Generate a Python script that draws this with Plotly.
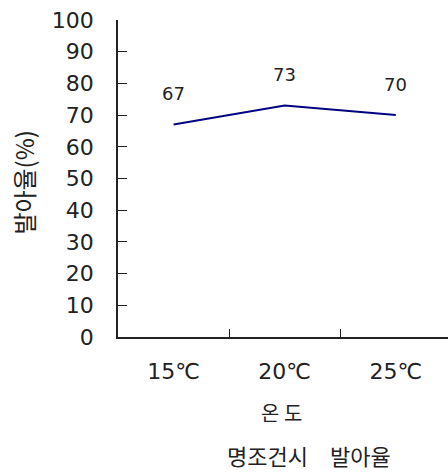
import plotly.graph_objects as go

# Germination rate under light conditions by temperature
temps = ["15℃", "20℃", "25℃"]
rates = [67, 73, 70]
y_ticks = [0, 10, 20, 30, 40, 50, 60, 70, 80, 90, 100]

FONT = "DejaVu Sans, Noto Sans CJK KR, sans-serif"
KFONT = "Noto Sans CJK KR, sans-serif"

fig = go.Figure()
fig.add_trace(go.Scatter(
    x=temps, y=rates, mode="lines",
    line=dict(color="#000080", width=2),
    hoverinfo="skip", showlegend=False,
))

for t, r in zip(temps, rates):
    fig.add_annotation(
        x=t, y=r, text=str(r), showarrow=False,
        yshift=31, font=dict(family=FONT, size=18, color="#222"),
    )

fig.add_annotation(xref="paper", yref="paper", x=0.494, y=-0.237,
                   xanchor="center", yanchor="middle",
                   text="온 도", showarrow=False,
                   font=dict(family=KFONT, size=20, color="#222"))
fig.add_annotation(xref="paper", yref="paper", x=0.579, y=-0.372,
                   xanchor="center", yanchor="middle",
                   text="명조건시\u3000발아율", showarrow=False,
                   font=dict(family=KFONT, size=22, color="#222"))
fig.add_annotation(xref="paper", yref="paper", x=-0.285, y=0.49,
                   xanchor="center", yanchor="middle",
                   text="발아율(%)", showarrow=False, textangle=-90,
                   font=dict(family=KFONT, size=24, color="#222"))

fig.update_layout(
    width=448, height=472,
    margin=dict(l=118, r=0, t=20, b=135),
    paper_bgcolor="white", plot_bgcolor="white",
    font=dict(family=FONT, color="#222"),
    xaxis=dict(
        type="category", categoryorder="array", categoryarray=temps,
        range=[-0.5, 2.47], tickson="boundaries", ticks="inside",
        ticklen=8, tickcolor="#222", showline=True, linecolor="#222",
        linewidth=1.5, showgrid=False, zeroline=False,
        tickfont=dict(size=22), ticklabelstandoff=14,
    ),
    yaxis=dict(
        range=[0, 100], tickvals=y_ticks, ticks="inside", ticklen=9,
        tickcolor="#222", showline=True, linecolor="#222", linewidth=1.5,
        showgrid=False, zeroline=False, tickfont=dict(size=22),
        ticklabelstandoff=18,
    ),
)

fig.write_html("out.html")
